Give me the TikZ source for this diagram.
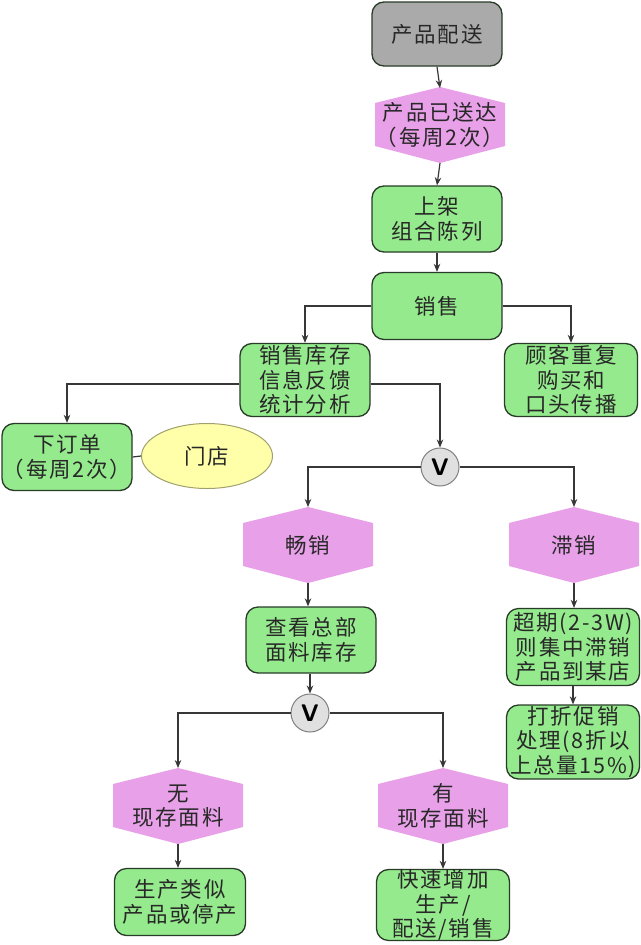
\documentclass[tikz,border=0pt]{standalone}
\usepackage{fontspec}
\usetikzlibrary{arrows.meta,shapes.geometric}
\newfontfamily\cjk[LetterSpace=8]{Noto Sans CJK SC}
\definecolor{gfill}{RGB}{148,234,140}
\definecolor{gline}{RGB}{40,60,40}
\definecolor{hfill}{RGB}{232,160,232}
\definecolor{grayfill}{RGB}{170,170,170}
\definecolor{yfill}{RGB}{255,255,170}
\definecolor{yline}{RGB}{160,160,110}
\definecolor{txt}{RGB}{40,40,40}
\definecolor{ln}{RGB}{55,55,55}
\tikzset{
  tfont/.style={font=\cjk\fontsize{21.5}{24.5}\selectfont},
  box/.style={draw=gline, line width=1.3pt, fill=gfill, rounded corners=12pt,
    minimum width=130pt, minimum height=66pt, inner sep=0pt, align=center,
    tfont, text=txt},
  hexlabel/.style={minimum width=130pt, minimum height=76pt, inner sep=0pt, align=center,
    tfont, text=txt},
  vnode/.style={circle, draw=gray, line width=1pt, fill=black!12, minimum size=38pt, inner sep=0pt,
    font=\sffamily\bfseries\fontsize{24}{24}\selectfont},
  conn/.style={draw=ln, line width=1.2pt, -{Stealth[length=8pt,width=6.5pt]}},
  plain/.style={draw=ln, line width=1.2pt},
}
\newcommand\hexshape[2]{%
  \fill[hfill] ({#1},{#2-38}) -- ({#1+65},{#2-22}) -- ({#1+65},{#2+21}) -- ({#1},{#2+38})
    -- ({#1-65},{#2+21}) -- ({#1-65},{#2-22}) -- cycle;}
\begin{document}
\begin{tikzpicture}[x=1pt,y=-1pt]
\useasboundingbox (0,0) rectangle (640,945);
\fill[white] (0,0) rectangle (640,945);
% hexagon backgrounds
\hexshape{440}{125}
\hexshape{308}{545}
\hexshape{574}{545}
\hexshape{178}{806}
\hexshape{443}{806}
% nodes
\node[box, fill=grayfill, minimum height=64pt] (n1) at (437,34) {产品配送};
\node[hexlabel] (n2) at (440,125) {产品已送达\\（每周2次）};
\node[box] (n3) at (437,219) {上架\\组合陈列};
\node[box, minimum height=67pt] (n4) at (437,306) {销售};
\node[box, minimum height=73pt] (n5) at (305,380) {销售库存\\信息反馈\\统计分析};
\node[box, minimum width=133pt, minimum height=73pt] (n6) at (571,380) {顾客重复\\购买和\\口头传播};
\node[box, minimum height=67pt] (n7) at (67,457) {下订单\\（每周2次）};
\node[ellipse, draw=yline, line width=1pt, fill=yfill, minimum width=131pt, minimum height=65pt,
  inner sep=0pt, tfont, text=txt] (n8) at (207,456) {门店};
\node[vnode] (v1) at (440,467) {V};
\node[hexlabel] (n10) at (308,545) {畅销};
\node[hexlabel] (n11) at (574,545) {滞销};
\node[box] (n12) at (311,640) {查看总部\\面料库存};
\node[box, minimum width=133pt, minimum height=77pt] (n13) at (573,647) {超期(2-3W)\\则集中滞销\\产品到某店};
\node[box, minimum width=133pt, minimum height=74pt] (n14) at (573,742) {打折促销\\处理(8折以\\上总量15\%)};
\node[vnode] (v2) at (310,713) {V};
\node[hexlabel] (n16) at (178,806) {无\\现存面料};
\node[hexlabel] (n17) at (443,806) {有\\现存面料};
\node[box, minimum width=131pt, minimum height=67pt] (n18) at (180,902) {生产类似\\产品或停产};
\node[box, minimum width=133pt, minimum height=70pt] (n19) at (443,905) {快速增加\\生产/\\配送/销售};
% connectors
\draw[conn] (n1.south) -- (440,88);
\draw[conn] (440,163) -- (n3.north);
\draw[conn] (n3.south) -- (n4.north);
\draw[conn] (n4.west) -| (n5.north);
\draw[conn] (n4.east) -| (n6.north);
\draw[conn] ([yshift=-4pt]n5.west) -| (n7.north);
\draw[conn] ([yshift=-4pt]n5.east) -| (v1.north);
\draw[plain] (n7.east) -- (n8.west);
\draw[conn] (v1.west) -| (308,507);
\draw[conn] (v1.east) -| (574,507);
\draw[conn] (308,583) -- (n12.north -| 308,583);
\draw[conn] (574,583) -- (n13.north -| 574,583);
\draw[conn] (n13.south) -- (n14.north);
\draw[conn] (n12.south -| v2) -- (v2.north);
\draw[conn] (v2.west) -| (178,768);
\draw[conn] (v2.east) -| (443,768);
\draw[conn] (178,844) -- (n18.north -| 178,844);
\draw[conn] (443,844) -- (n19.north);
\end{tikzpicture}
\end{document}
